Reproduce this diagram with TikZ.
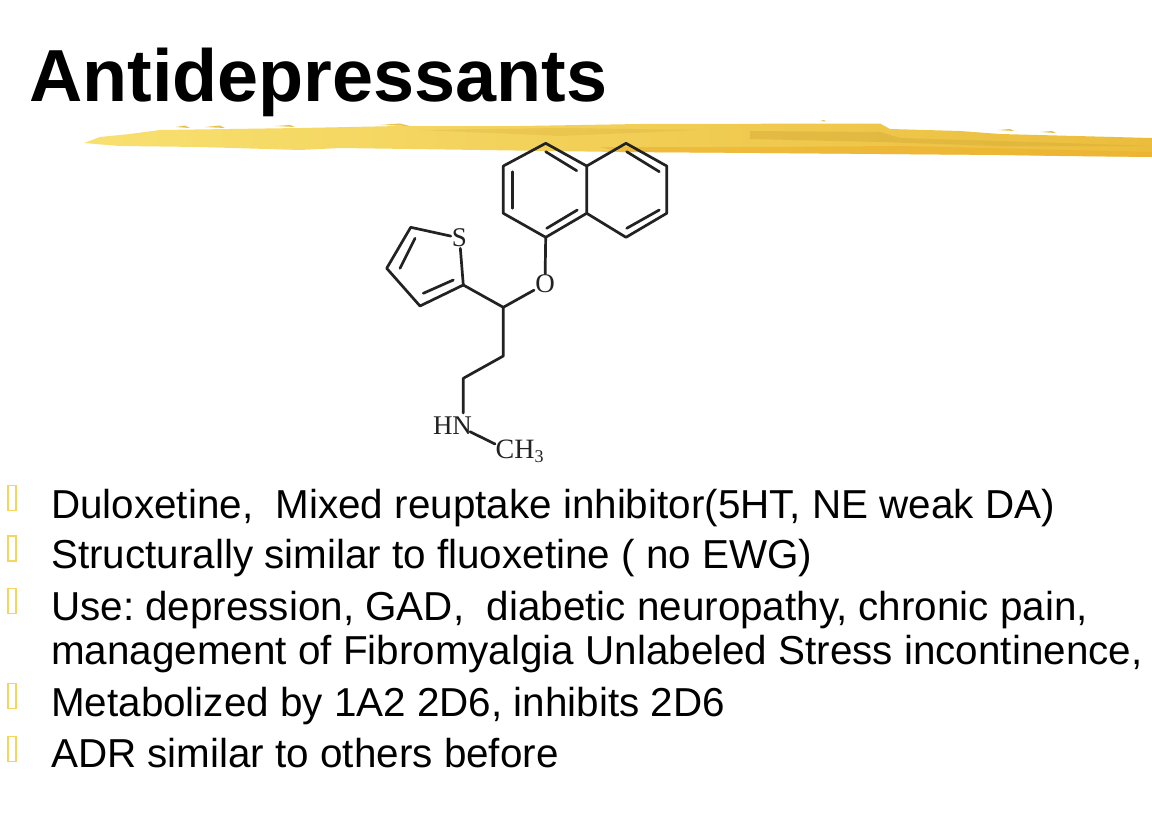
\documentclass[tikz,border=0pt]{standalone}
\usepackage{fontspec}
\setmainfont{Liberation Sans}
\newfontfamily\serifchem{Liberation Serif}
\usetikzlibrary{calc}
\frenchspacing
\definecolor{brushA}{HTML}{F8E070}
\definecolor{brushB}{HTML}{F0C94C}
\definecolor{brushC}{HTML}{EBBD3C}
\definecolor{brushD}{HTML}{D9AF3A}
\definecolor{brushE}{HTML}{EDAE2B}
\definecolor{bulletc}{HTML}{F6D55C}
\definecolor{bondc}{HTML}{222222}
\tikzset{
 x=1pt,y=-1pt,
 title/.style={anchor=base west,inner sep=0,font=\fontsize{73.8}{74}\selectfont\bfseries},
 body/.style={anchor=base west,inner sep=0,font=\fontsize{40.4}{42}\selectfont},
 atom/.style={inner sep=1pt,text=bondc,font=\serifchem\fontsize{27}{27}\selectfont},
 bond/.style={draw=bondc,line width=2.7pt,line cap=round,line join=round},
 bul/.style={draw=bulletc,line width=1.9pt,fill=white,minimum width=8pt,minimum height=25pt,inner sep=0},
 speck/.style={fill=brushD!60!brushA},
}
\begin{document}
\begin{tikzpicture}
\useasboundingbox (0,0) rectangle (1152,814);
\fill[white] (0,0) rectangle (1152,814);
% brush stroke
\shade[left color=brushA,middle color=brushB,right color=brushC]
 (84,143) -- (100,137) -- (130,134) -- (160,130) -- (300,128) -- (400,126) -- (520,126) -- (640,124) -- (880,123.5) -- (890,129) -- (960,131) -- (1000,134) -- (1152,138) -- (1152,157) -- (1060,156) -- (1000,155) -- (880,154) -- (760,153) -- (620,152) -- (480,150) -- (340,148) -- (300,150) -- (200,147) -- (120,146) -- cycle;
\fill[brushE,opacity=.55] (600,147) -- (760,147) -- (900,146) -- (1152,152) -- (1152,157) -- (1000,155) -- (880,154) -- (760,153) -- (620,152) -- cycle;
\fill[brushD,opacity=.55] (750,131) -- (880,132) -- (900,138) -- (1000,141) -- (1152,146) -- (1000,146) -- (880,142) -- (750,139) -- cycle;
\fill[brushD,opacity=.3] (420,130) -- (560,128) -- (700,130) -- (560,136) -- cycle;
\fill[speck] (176,127) -- (185,125.5) -- (190,128) -- cycle;
\fill[speck] (205,127) -- (220,125.5) -- (225,128) -- cycle;
\fill[speck] (275,126) -- (290,125) -- (295,127) -- cycle;
\fill[speck] (380,125) -- (400,123.5) -- (410,126) -- cycle;
\fill[speck] (820,121) -- (824,120) -- (826,121.5) -- cycle;
\fill[speck] (998,130) -- (1010,129) -- (1014,131) -- cycle;
\fill[speck] (1040,132) -- (1052,131) -- (1056,133) -- cycle;
% title
\node[title] (t) at (29,101) {Antidepressants};
% skeleton coordinates
\coordinate (a1) at (545.7,143.3);
\coordinate (a2) at (503.3,166);
\coordinate (a3) at (503.3,213.3);
\coordinate (a4) at (545.7,237.3);
\coordinate (a5) at (586.7,213.3);
\coordinate (a6) at (586.7,166);
\coordinate (a7) at (626,143.3);
\coordinate (a8) at (666.7,166);
\coordinate (a9) at (666.7,213.3);
\coordinate (a10) at (626,237.3);
\coordinate (ch) at (503.3,307.3);
\coordinate (c2) at (503.3,356);
\coordinate (c3) at (463.3,378.3);
\coordinate (t2) at (463.3,285);
\coordinate (t5) at (410.7,227.3);
\coordinate (t4) at (386.7,268.3);
\coordinate (t3) at (420,306);
\coordinate (nh) at (463.3,413);
\coordinate (nb) at (470,431.7);
\coordinate (me) at (495,444);
\coordinate (d1) at (512.7,171.7);
\coordinate (d2) at (512.7,208.3);
\coordinate (d3) at (545.7,151.7);
\coordinate (d4) at (576.7,170.7);
\coordinate (d5) at (546.7,228.3);
\coordinate (d6) at (577.3,210);
\coordinate (d7) at (626.7,151.7);
\coordinate (d8) at (659.3,171.7);
\coordinate (d9) at (626.7,228.3);
\coordinate (d10) at (659.3,210);
\coordinate (e1) at (415,238.3);
\coordinate (e2) at (400,268.3);
\coordinate (e3) at (423.3,293.3);
\coordinate (e4) at (453.3,280);
\node[atom] (S) at (459.5,238) {S};
\node[atom] (O) at (545,284) {O};
\node[atom,anchor=base] (HN) at (452.5,434) {HN};
\node[atom,anchor=base west,inner sep=0,font=\serifchem\fontsize{28}{28}\selectfont] (CH) at (495.5,458) {CH\raisebox{-4pt}{\fontsize{18}{18}\selectfont 3}};
% naphthalene
\draw[bond] (a4)--(a3)--(a2)--(a1)--(a6)--(a5)--(a4);
\draw[bond] (a6)--(a7)--(a8)--(a9)--(a10)--(a5);
\draw[bond] (d1)--(d2);
\draw[bond] (d3)--(d4);
\draw[bond] (d5)--(d6);
\draw[bond] (d7)--(d8);
\draw[bond] (d9)--(d10);
% thiophene
\draw[bond] (S)--(t5)--(t4)--(t3)--(t2)--(S);
\draw[bond] (e1)--(e2);
\draw[bond] (e3)--(e4);
% chain
\draw[bond] (t2)--(ch)--(c2)--(c3)--(nh);
\draw[bond] (ch)--(O);
\draw[bond] (O)--(a4);
\draw[bond] (nb)--(me);
% bullets
\foreach \n/\y in {b1/498,b2/548.5,b3/601,b4/696,b5/749}{
 \node[bul] (\n) at (12,\y) {};
}
% text
\node[body] (l1) at (51,518) {Duloxetine,\ \ Mixed reuptake inhibitor(5HT, NE weak DA)};
\node[body] (l2) at (51,568) {Structurally similar to fluoxetine ( no EWG)};
\node[body] (l3) at (51,620) {Use: depression, GAD,\ \ diabetic neuropathy, chronic pain,};
\node[body] (l4) at (51,664) {management of Fibromyalgia Unlabeled Stress incontinence,};
\node[body] (l5) at (51,716) {Metabolized by 1A2 2D6, inhibits 2D6};
\node[body] (l6) at (51,767) {ADR similar to others before};
\end{tikzpicture}
\end{document}
